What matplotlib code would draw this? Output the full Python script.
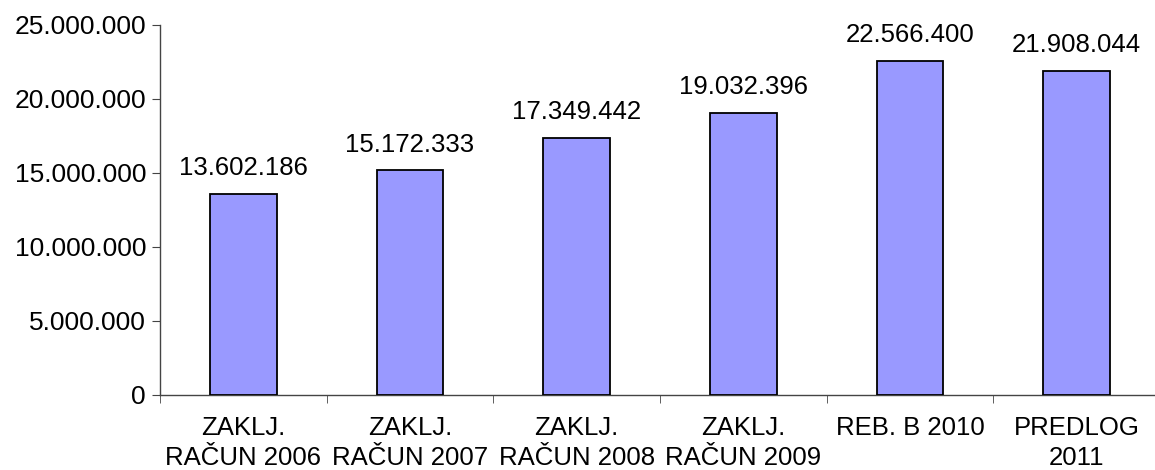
import matplotlib
matplotlib.use("Agg")
import matplotlib.pyplot as plt
from matplotlib.ticker import FuncFormatter, FixedLocator

categories = ["ZAKLJ.\nRAČUN 2006", "ZAKLJ.\nRAČUN 2007", "ZAKLJ.\nRAČUN 2008",
              "ZAKLJ.\nRAČUN 2009", "REB. B 2010", "PREDLOG\n2011"]
values = [13602186, 15172333, 17349442, 19032396, 22566400, 21908044]
yticks = [0, 5000000, 10000000, 15000000, 20000000, 25000000]

plt.rcParams['font.family'] = ['Liberation Sans', 'DejaVu Sans']

def fmt(v):
    return f"{int(v):,}".replace(",", ".")

fig = plt.figure(figsize=(11.55, 4.7), dpi=100)
W, H = 1155, 470
ax = fig.add_axes([160 / W, (H - 395) / H, 1000 / W, 370 / H])

x = list(range(len(categories)))
ax.bar(x, values, width=0.4, color="#9999FF", edgecolor="black", linewidth=1.3, zorder=3)
for xi, v in zip(x, values):
    ax.annotate(fmt(v), (xi, v), xytext=(0, 10), textcoords="offset points",
                ha="center", va="bottom", fontsize=18.5, color="black")

ax.set_xlim(-0.5, len(categories) - 0.5)
ax.set_ylim(0, 25000000)
ax.set_yticks(yticks)
ax.yaxis.set_major_formatter(FuncFormatter(lambda v, p: fmt(v)))
ax.set_xticks(x)
ax.set_xticklabels(categories, fontsize=18.5, linespacing=1.32)
ax.xaxis.set_minor_locator(FixedLocator([i - 0.5 for i in range(len(categories) + 1)]))
ax.tick_params(axis="x", which="major", length=0, pad=15)
ax.tick_params(axis="x", which="minor", length=6, direction="out", color="#444444")
ax.tick_params(axis="y", length=6, direction="out", labelsize=19, color="#444444", pad=4)
for s in ["top", "right"]:
    ax.spines[s].set_visible(False)
for s in ["left", "bottom"]:
    ax.spines[s].set_color("#444444")
    ax.spines[s].set_linewidth(1.0)

fig.savefig("out.png", dpi=100)
